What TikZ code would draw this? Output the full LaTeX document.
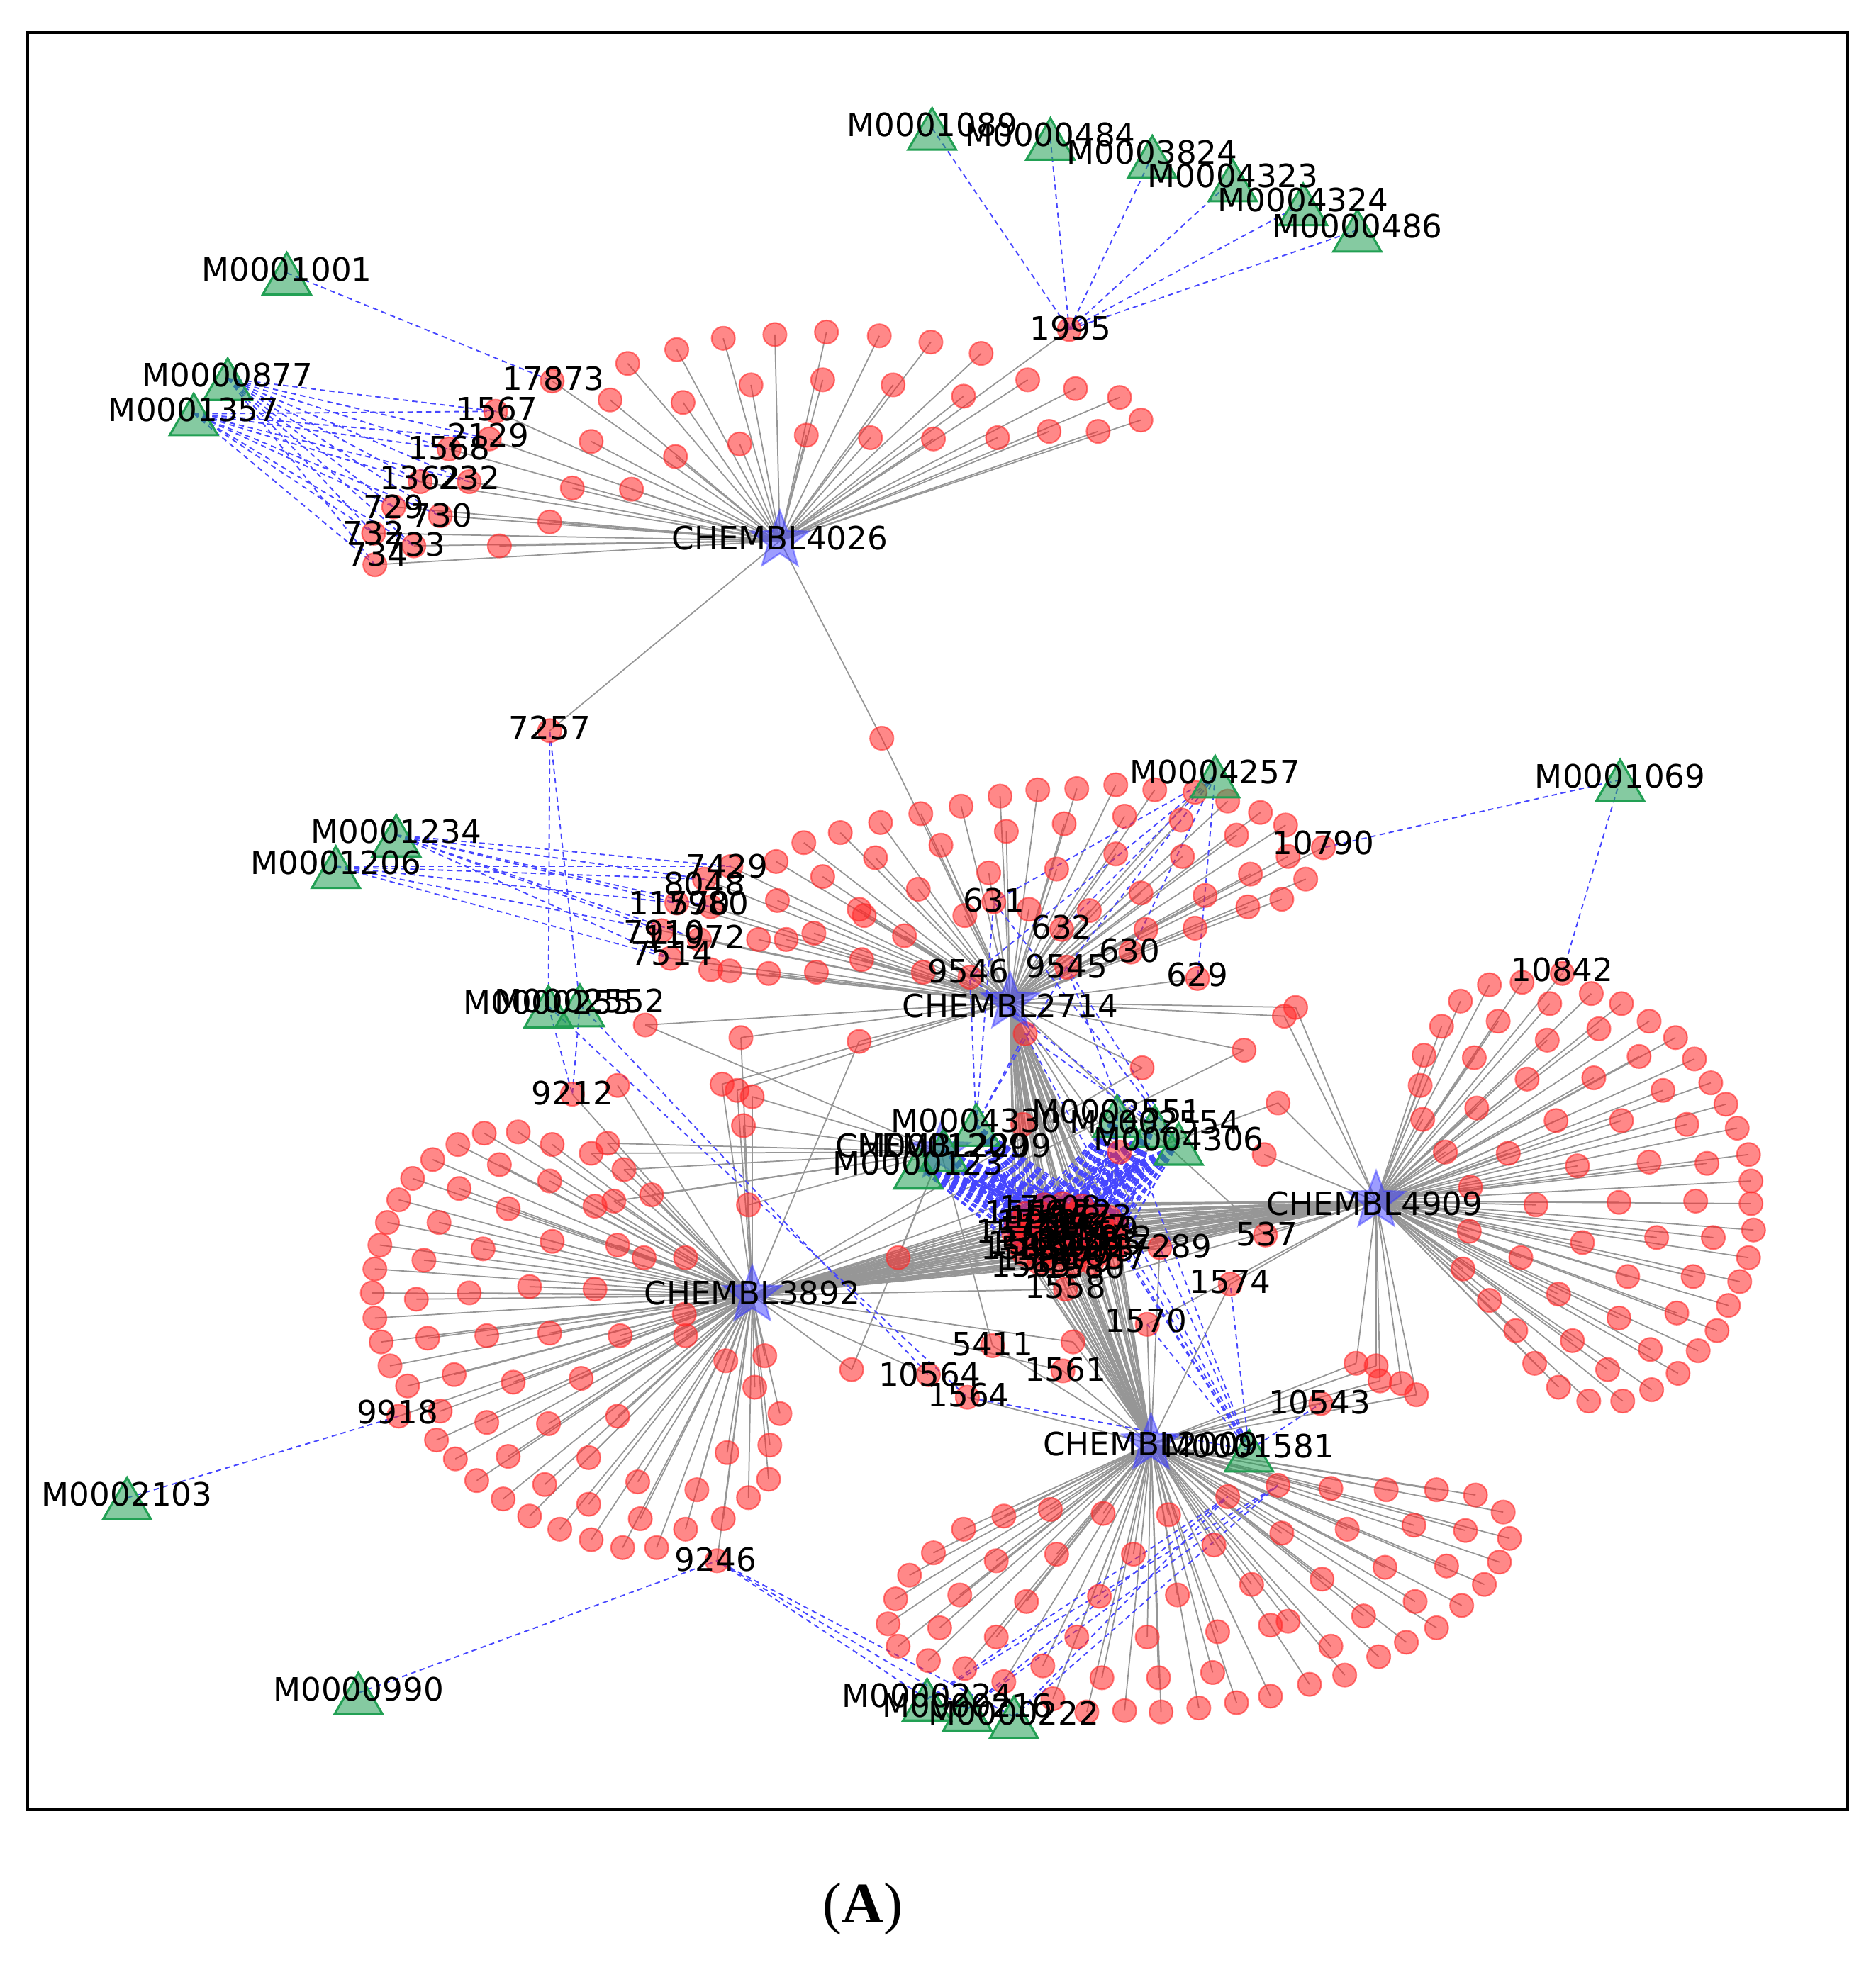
\documentclass[tikz,border=0pt]{standalone}
\usepackage{fontspec}
\setmainfont{DejaVu Sans}
\newfontfamily\capfont{Liberation Serif}
\usetikzlibrary{shapes.geometric}
\definecolor{tgreen}{RGB}{34,160,84}
\definecolor{nred}{RGB}{255,40,40}
\definecolor{sblue}{RGB}{60,60,255}
\definecolor{egray}{RGB}{150,150,150}
\definecolor{eblue}{RGB}{70,70,255}
\tikzset{
  rn/.style={shape=circle,minimum size=0.185cm,inner sep=0pt,fill=nred,fill opacity=0.55,draw=nred,draw opacity=0.6,line width=0.35pt},
  tn/.style={shape=regular polygon,regular polygon sides=3,minimum size=0.44cm,inner sep=0pt,fill=tgreen,fill opacity=0.55,draw=tgreen,line width=0.5pt},
  sn/.style={shape=star,star points=5,star point ratio=2.4,minimum size=0.48cm,inner sep=0pt,fill=sblue,fill opacity=0.5,draw=sblue,draw opacity=0.5,line width=0.4pt},
  lb/.style={inner sep=0pt,text=black,font=\fontsize{7.25}{8}\selectfont},
  ge/.style={draw=egray,line width=0.28pt},
  be/.style={draw=eblue,line width=0.3pt,dash pattern=on 1.2pt off 0.9pt},
}
% ---- data lists
\def\TRI{0001089/741/99, 0000484/835/107, 0003824/916/121, 0004323/980/140, 0004324/1036/159, 0000486/1079/180, 0001001/228/214, 0000877/181/298, 0001357/154/326, 0001234/315/661, 0001206/267/686, 0004257/966/614, 0001069/1288/617, 0000255/436/797, 0002552/461/796, 0004330/776/891, 0002551/888/884, 0002554/918/892, 0004306/937/906, 0000123/730/925, 0001209/750/911, 0001581/993/1150, 0002103/101/1188, 0000990/285/1343, 0000224/737/1348, 0000216/769/1356, 0000222/806/1362}
\def\LAB{17873/439/303, 1567/394/327, 2129/389/349, 1568/357/357, 1362/334/383, 232/373/383, 729/313/403, 730/350/410, 732/297/424, 733/329/434, 734/298/449, 1995/850/262, 7257/437/581, x587/701/587, 631/790/717, 632/844/739, 630/899/757, 629/952/778, 9546/771/777, 9545/848/769, 7429/581/689, 8048/560/699, 11570/538/718, 7980/565/721, 7910/526/740, 11972/556/747, 7514/533/762, 10790/1052/674, 9918/317/1126, 9246/570/1241, 9212/455/870, 10842/1242/774, 537/1006/982, 10543/1050/1116, 1558/847/1025, 17289/922/992, 1574/978/1021, 1570/912/1053, 5411/789/1070, 1561/845/1090, 10564/738/1093, 1564/769/1111}
\def\MID{m1/513/815, m2/589/825, m3/683/828, m4/574/862, m5/586/867, m6/598/872, m7/591/895, m8/595/958, m9/714/1000, m10/677/1089, m11/908/849, m12/989/835, m13/1016/877, m14/1005/918, m15/1030/801, m16/1021/808, m17/853/1067, m18/890/916, m19/813/894, m20/815/822, ex1/1016/1181, ex2/976/1190, cx1/483/909, cx2/470/917, cx3/496/930, cx4/518/950, cx5/488/955}
\def\LA{499/289, 538/278, 575/269, 616/266, 657/264, 699/267, 740/272, 780/281, 485/318, 543/320, 597/306, 654/302, 710/306, 766/315, 817/302, 855/309, 890/316, 470/351, 537/363, 588/353, 641/346, 692/348, 742/349, 793/348, 834/343, 873/343, 907/334, 455/388, 502/389, 437/415, 397/434}
\def\LB{887/624, 856/627, 825/628, 795/633, 764/641, 732/647, 700/654, 668/662, 639/670, 617/685, 918/628, 950/630, 976/637, 1002/646, 894/649, 846/655, 800/661, 748/672, 696/682, 654/697, 618/716, 939/652, 983/664, 887/679, 840/691, 786/694, 730/707, 683/723, 687/728, 647/742, 603/747, 940/681, 994/695, 907/710, 866/724, 818/723, 767/728, 719/744, 625/747, 958/712, 992/721, 911/739, 950/738, 685/763, 649/773, 611/774, 580/772, 565/771, 734/773, 1022/656, 1024/681, 1038/699, 1019/715}
\def\LC{385/901, 412/900, 439/910, 364/910, 344/922, 328/937, 317/954, 308/972, 302/990, 298/1009, 296/1028, 298/1048, 303/1067, 310/1086, 324/1102, 350/1122, 347/1145, 362/1160, 379/1177, 400/1191, 421/1204, 445/1214, 470/1222, 495/1228, 522/1228, 473/959, 397/926, 437/939, 365/945, 404/961, 349/972, 439/987, 384/993, 491/990, 512/1000, 337/1002, 421/1023, 473/1025, 373/1028, 331/1033, 340/1064, 387/1062, 437/1060, 493/1062, 361/1093, 408/1099, 462/1096, 387/1131, 436/1132, 491/1126, 404/1158, 468/1159, 433/1180, 507/1178, 468/1195, 509/1206, 554/1184, 611/1176, 595/1190, 545/1214, 575/1206, 544/1045, 545/1062, 577/1082, 608/1078, 600/1103, 620/1124, 612/1149, 578/1155, 545/1000, 491/863}
\def\LD{1332/825, 1311/812, 1347/842, 1360/861, 1372/878, 1381/897, 1390/918, 1392/939, 1392/957, 1394/978, 1390/1000, 1383/1019, 1374/1038, 1365/1058, 1350/1074, 1334/1092, 1313/1105, 1290/1114, 1263/1114, 1239/1103, 1220/1084, 1205/1058, 1184/1034, 1163/1009, 1168/979, 1221/958, 1287/956, 1348/955, 1362/984, 1317/984, 1258/988, 1209/1000, 1294/1015, 1346/1015, 1239/1029, 1287/1048, 1333/1044, 1250/1066, 1312/1073, 1278/1089, 1357/925, 1311/924, 1254/927, 1199/917, 1149/916, 1169/944, 1341/894, 1289/891, 1237/891, 1174/881, 1131/890, 1129/863, 1132/839, 1146/816, 1322/867, 1267/857, 1214/858, 1172/841, 1303/840, 1230/827, 1271/818, 1191/812, 1210/781, 1184/783, 1161/796, 1265/790, 1289/798, 1232/798}
\def\LDD{1078/1084, 1094/1086, 1097/1098, 1114/1100, 1126/1109}
\def\LE{798/1204, 835/1199, 877/1202, 929/1203, 766/1214, 742/1232, 723/1249, 712/1267, 706/1286, 714/1303, 738/1314, 767/1320, 798/1330, 837/1343, 864/1353, 894/1352, 923/1353, 953/1350, 983/1346, 1010/1341, 1041/1332, 1069/1325, 1096/1311, 1118/1300, 1142/1289, 1162/1272, 1180/1256, 1192/1239, 1200/1221, 1195/1201, 1173/1188, 1142/1184, 1102/1184, 1058/1183, 792/1238, 840/1233, 901/1233, 965/1226, 763/1264, 816/1269, 874/1265, 936/1264, 995/1256, 747/1289, 792/1296, 856/1296, 912/1296, 968/1292, 1010/1287, 829/1318, 876/1327, 921/1327, 964/1323, 1019/1217, 1071/1214, 1124/1211, 1165/1215, 1101/1243, 1150/1242, 1051/1252, 1125/1269, 1084/1280, 1024/1284, 1058/1303}
\def\LH{830/958, 845/957, 860/959, 815/965, 828/965, 842/964, 856/965, 870/966, 882/968, 808/973, 820/973, 834/972, 848/972, 862/973, 876/974, 888/976, 806/981, 818/981, 832/980, 846/980, 860/981, 874/982, 886/983, 808/989, 822/989, 836/988, 850/988, 864/989, 878/990, 889/991, 814/997, 828/997, 842/996, 856/996, 870/997, 884/998, 826/1004, 840/1004, 854/1004, 868/1004}
\def\STARS{4026/620/430, 2714/803/797, 3892/598/1030, 4909/1094/955, 2009/915/1148, 2209/748/916}
\begin{document}
\begin{tikzpicture}[x=0.01cm,y=-0.01cm]
\useasboundingbox (0,0) rectangle (1491,1568);
\fill[white] (0,0) rectangle (1491,1568);

% ================= named positions
\foreach \n/\x/\y in \STARS {\coordinate (s\n) at (\x,\y);}
\foreach \n/\x/\y in \TRI {\coordinate (tM\n) at (\x,\y+3);}
\foreach \n/\x/\y in \LAB {\coordinate (n\n) at (\x,\y);}
\foreach \n/\x/\y in \MID {\coordinate (\n) at (\x,\y);}
\foreach \x/\y [count=\i] in \LA {\coordinate (a\i) at (\x,\y);}
\foreach \x/\y [count=\i] in \LB {\coordinate (b\i) at (\x,\y);}
\foreach \x/\y [count=\i] in \LC {\coordinate (c\i) at (\x,{\y+max(0,(1.7746*\y-2080)*0.0255)});}
\foreach \x/\y [count=\i] in \LD {\coordinate (d\i) at (\x,\y);}
\foreach \x/\y [count=\i] in \LDD {\coordinate (dd\i) at (\x,\y);}
\foreach \x/\y [count=\i] in \LE {\coordinate (e\i) at (\x,{\y+max(0,(1.7746*\y-2080)*0.0255)});}
\foreach \x/\y [count=\i] in \LH {\coordinate (h\i) at (\x,\y);}

% ================= gray edges
\foreach \x/\y [count=\i] in \LA {\draw[ge] (s4026) -- (a\i);}
\foreach \n in {n17873,n1567,n2129,n1568,n1362,n232,n729,n730,n732,n733,n734,n1995,n7257,nx587}
  {\draw[ge] (s4026) -- (\n);}
\draw[ge] (nx587) -- (s2714);
\foreach \x/\y [count=\i] in \LB {\draw[ge] (s2714) -- (b\i);}
\foreach \n in {n631,n632,n630,n629,n9546,n9545,n7429,n8048,n11570,n7980,n7910,n11972,n7514,n10790,m1,m2,m3,m4,m5,m11,m12,m15,m16,m18,m19,m20,n537}
  {\draw[ge] (s2714) -- (\n);}
\foreach \x/\y [count=\i] in \LC {\draw[ge] (s3892) -- (c\i);}
\foreach \n in {n9918,n9246,n9212,m2,m3,m4,m5,m6,m7,m8,m9,m10,m11,m12,m13,m17,n10564,n1561,cx1,cx2,cx3,cx4,cx5}
  {\draw[ge] (s3892) -- (\n);}
\foreach \n in {m1,m6,m7,m8,m9,m10,n5411,cx1,cx2,cx3,cx4,cx5}
  {\draw[ge] (s2209) -- (\n);}
\foreach \x/\y [count=\i] in \LD {\draw[ge] (s4909) -- (d\i);}
\foreach \x/\y [count=\i] in \LDD {\draw[ge] (s4909) -- (dd\i); \draw[ge] (s2009) -- (dd\i);}
\foreach \n in {n10842,n537,n1574,n1570,m13,m14,m15,m16}
  {\draw[ge] (s4909) -- (\n);}
\foreach \x/\y [count=\i] in \LE {\draw[ge] (s2009) -- (e\i);}
\foreach \n in {ex1,ex2,n10543,n1570,n1574,n5411,n1561,n1564,m17}
  {\draw[ge] (s2009) -- (\n);}
\foreach \x/\y [count=\i] in \LH
  {\draw[ge] (s2714) -- (h\i); \draw[ge] (s3892) -- (h\i); \draw[ge] (s4909) -- (h\i); \draw[ge] (s2009) -- (h\i);}
\foreach \n in {n1558,n17289}
  {\draw[ge] (s2714) -- (\n); \draw[ge] (s3892) -- (\n); \draw[ge] (s4909) -- (\n); \draw[ge] (s2009) -- (\n);}

% ================= blue dashed edges
\foreach \x/\y [count=\i] in \LH
  {\foreach \t in {0004330,0002551,0002554,0004306,0000123,0001209}{\draw[be] (tM\t) -- (h\i);}}
\draw[be] (tM0001001) -- (n17873);
\foreach \t in {0000877,0001357}{\foreach \n in {1567,2129,1568,1362,232,729,730,732,733,734}{\draw[be] (tM\t) -- (n\n);}}
\foreach \t in {0001089,0000484,0003824,0004323,0004324,0000486}{\draw[be] (tM\t) -- (n1995);}
\foreach \n in {7429,8048,7980,11570,7910,11972,7514}{\draw[be] (tM0001234) -- (n\n);}
\foreach \n in {7429,8048,11570,7910,7514}{\draw[be] (tM0001206) -- (n\n);}
\foreach \n in {631,632,630,629,9545,9546}{\draw[be] (tM0004257) -- (n\n);}
\draw[be] (tM0001069) -- (n10790);
\draw[be] (tM0001069) -- (n10842);
\foreach \n in {n7257,n9212,n1564}{\draw[be] (tM0000255) -- (\n);}
\foreach \n in {n7257,n9212,n10564}{\draw[be] (tM0002552) -- (\n);}
\foreach \n in {n9546,n9545,m20,n631}{\draw[be] (tM0004330) -- (\n); \draw[be] (tM0004306) -- (\n);}
\foreach \n in {n1574,n1570,n10543,n1564,m20,n9545,h16,h23,h30,n17289}{\draw[be] (tM0001581) -- (\n);}
\draw[be] (tM0002103) -- (n9918);
\draw[be] (tM0000990) -- (n9246);
\foreach \t in {0000224,0000216,0000222}{\draw[be] (tM\t) -- (n9246); \draw[be] (tM\t) -- (ex1); \draw[be] (tM\t) -- (ex2);}

% ================= node shapes
\foreach \x/\y [count=\i] in \LA {\node[rn] at (a\i) {};}
\foreach \x/\y [count=\i] in \LB {\node[rn] at (b\i) {};}
\foreach \x/\y [count=\i] in \LC {\node[rn] at (c\i) {};}
\foreach \x/\y [count=\i] in \LD {\node[rn] at (d\i) {};}
\foreach \x/\y [count=\i] in \LDD {\node[rn] at (dd\i) {};}
\foreach \x/\y [count=\i] in \LE {\node[rn] at (e\i) {};}
\foreach \x/\y [count=\i] in \LH {\node[rn] at (h\i) {};}
\foreach \n/\x/\y in \LAB {\node[rn] at (n\n) {};}
\foreach \n/\x/\y in \MID {\node[rn] at (\n) {};}
\foreach \n/\x/\y in \STARS {\node[sn] at (s\n) {};}
\foreach \n/\x/\y in \TRI {\node[tn] at (\x,\y+9) {};}

% ================= labels
\foreach \t/\x/\y in {CHEMBL4026/620/428, CHEMBL2714/803/800, CHEMBL3892/598/1028, CHEMBL4909/1093/957, CHEMBL2009/915/1148, CHEMBL2209/750/911}
  {\node[lb] at (\x,\y) {\t};}
\foreach \n/\x/\y in \TRI {\node[lb] at (\x,\y) {M\n};}
\foreach \t/\x/\y in {1995/851/261, 17873/440/301, 1567/395/325, 2129/388/346, 1568/357/356, 1362/334/380, 232/373/380, 729/313/403, 730/351/410, 732/297/424, 733/330/433, 734/300/441, 7257/437/579, 7429/578/689, 8048/560/703, 11570/540/718, 7980/563/718, 7910/528/741, 11972/552/745, 7514/534/758, 631/790/716, 632/844/737, 630/898/756, 629/952/775, 9546/770/772, 9545/848/768, 10790/1052/670, 10842/1242/771, 9212/455/869, 537/1007/981, 1574/978/1019, 1570/911/1050, 1558/847/1023, 17289/923/991, 5411/789/1069, 1561/847/1089, 10564/739/1093, 1564/770/1109, 10543/1049/1115, 9918/316/1123, 9246/569/1240}
  {\node[lb] at (\x,\y) {\t};}
\foreach \t/\x/\y in {17208/835/960, 1559/815/964, 1572/852/963, 1573/868/967, 1712/825/971, 1566/843/974, 1569/873/977, 1576/808/979, 1577/828/984, 1578/858/985, 1562/884/984, 1563/812/992, 1571/840/993, 1575/870/994, 1560/826/1001, 1579/852/1002, 1557/879/1000, 1565/820/1006, 1580/862/1007, 1556/834/968, 1567/864/975, 1568/818/988, 1554/848/990, 1555/876/989}
  {\node[lb] at (\x,\y) {\t};}

\draw[line width=0.6pt] (22,26) rectangle (1469,1439);
\node[inner sep=0pt,font=\capfont\fontsize{13}{15}\selectfont] at (686,1518) {({\bfseries A})};
\end{tikzpicture}
\end{document}
